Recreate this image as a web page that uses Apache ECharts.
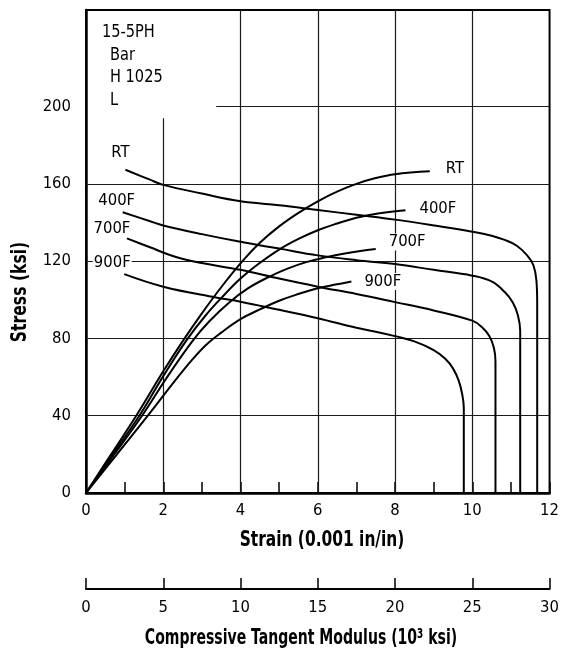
<!DOCTYPE html>
<html>
<head>
<meta charset="utf-8">
<script src="https://cdn.jsdelivr.net/npm/echarts/dist/echarts.min.js"></script>
<style>
  html, body { margin: 0; padding: 0; background: #fff; }
  #chart { width: 562px; height: 657px; }
</style>
</head>
<body>
<div id="chart"></div>
<script>
// ---- axis ranges and ticks ----
const strainMin = 0, strainMax = 12, strainStep = 2;       // 0.001 in/in
const modulusMin = 0, modulusMax = 30, modulusStep = 5;    // 10^3 ksi
const stressMin = 0, stressMax = 250, stressStep = 40;     // ksi
const stressLabelMax = 200;

// grid lines (data units)
const strainGridLines = [2, 4, 6, 8, 10];
const stressGridLines = [40, 80, 120, 160, 200];

// material note in the upper-left corner
const noteLines = ['15-5PH', 'Bar', 'H 1025', 'L'];

const curveNames = ['RT', '400F', '700F', '900F'];

// ---- compressive stress-strain curves: [strain, stress] ----
const stressStrainRT = [
  [0, 0], [0.65, 20], [1.3, 40], [2.0, 63], [2.5, 78.5], [3.0, 93], [3.5, 106.5],
  [4.05, 120], [4.5, 129.5], [5.0, 138], [5.5, 145], [6.0, 151], [6.5, 156],
  [7.0, 160], [7.5, 163], [8.0, 165], [8.9, 166.5]
];
const stressStrain400F = [
  [0, 0], [0.69, 20], [1.38, 40], [2.0, 60.5], [2.6, 79], [3.1, 92], [3.6, 103],
  [4.0, 111], [4.46, 118.5], [5.0, 126], [5.5, 131.5], [6.0, 136], [6.5, 139.5],
  [7.0, 142.5], [7.6, 144.8], [8.27, 146.3]
];
const stressStrain700F = [
  [0, 0], [0.73, 20], [1.45, 40], [2.1, 60], [2.77, 79], [3.2, 89], [3.7, 98.5],
  [4.2, 106], [4.7, 111.5], [5.2, 116], [5.7, 119.5], [6.2, 122], [6.7, 124],
  [7.1, 125.3], [7.5, 126.3]
];
const stressStrain900F = [
  [0, 0], [0.8, 20], [1.6, 40], [2.3, 58], [2.75, 69], [3.1, 76.5], [3.5, 83],
  [4.0, 90], [4.5, 95], [5.0, 99.5], [5.5, 103], [6.0, 106], [6.5, 108], [6.87, 109.5]
];

// ---- compressive tangent modulus curves: [modulus, stress] ----
const tangentRT = [
  [2.55, 167.3], [4.1, 162.3], [5.0, 159.5], [7.5, 155], [10.0, 151], [12.5, 149],
  [15.0, 146.5], [17.5, 144], [20.0, 141.5], [22.5, 138.5], [25.0, 135.2],
  [26.25, 133.2], [27.1, 131], [27.88, 128], [28.55, 123], [28.95, 118],
  [29.15, 110], [29.2, 98], [29.2, 0]
];
const tangent400F = [
  [2.375, 145.3], [4.1, 140.8], [5.0, 138.5], [7.5, 134], [10.0, 130], [12.5, 126.5],
  [15.0, 123], [17.5, 120.5], [20.0, 118.5], [22.5, 115.5], [25.0, 112.5],
  [26.25, 109.5], [27.1, 104], [27.63, 98.5], [27.95, 92], [28.1, 84], [28.1, 0]
];
const tangent700F = [
  [2.65, 131.8], [4.1, 127.3], [5.875, 122], [7.5, 119], [10.0, 115.5], [12.5, 111],
  [15.0, 106.8], [17.5, 103], [20.0, 98.8], [22.5, 94.5], [25.0, 89.2],
  [25.6, 86], [26.1, 81.2], [26.4, 75], [26.5, 68], [26.5, 0]
];
const tangent900F = [
  [2.475, 113.3], [5.0, 106.8], [8.4, 101.2], [10.0, 99], [12.5, 94.8], [15.0, 90.5],
  [17.5, 85.5], [18.75, 83.5], [20.0, 81.2], [21.25, 78.5], [22.5, 74],
  [23.25, 69.5], [23.75, 64.5], [24.125, 58], [24.35, 51], [24.45, 44], [24.45, 0]
];

// ---- styling ----
const FONT = '"Liberation Sans Narrow", "DejaVu Sans Condensed", "Arial Narrow", "Liberation Sans", sans-serif';
const INK = '#000';
const GRID_INK = '#1a1a1a';

// corner note box keeps the grid clear behind the material note
const noteBoxStrain = 3.37;
const noteBoxStress = 194;

const curveLabelStyle = {
  color: INK, fontFamily: FONT, fontSize: 16.5,
  backgroundColor: '#fff', padding: [0, 1]
};

const curves = [
  { name: curveNames[0], sigma: stressStrainRT,   tangent: tangentRT,   endDist: 15, endOff: [0, -3],  startOff: [-5, -17] },
  { name: curveNames[1], sigma: stressStrain400F, tangent: tangent400F, endDist: 13, endOff: [0, -2],  startOff: [-6, -12] },
  { name: curveNames[2], sigma: stressStrain700F, tangent: tangent700F, endDist: 12, endOff: [0, -7],  startOff: [-15, -10] },
  { name: curveNames[3], sigma: stressStrain900F, tangent: tangent900F, endDist: 12, endOff: [0, 0],   startOff: [-12, -11] }
];

// grid lines drawn as mark lines so the corner note area stays open
const gridLineData = [];
strainGridLines.forEach(function (x) {
  const top = (x < noteBoxStrain) ? noteBoxStress : stressMax;
  gridLineData.push([{ coord: [x, stressMin] }, { coord: [x, top] }]);
});
stressGridLines.forEach(function (y) {
  const left = (y > noteBoxStress) ? noteBoxStrain : strainMin;
  gridLineData.push([{ coord: [left, y] }, { coord: [strainMax, y] }]);
});

const series = [];
curves.forEach(function (c, i) {
  const sigmaSeries = {
    name: c.name + ' stress-strain',
    type: 'line',
    xAxisIndex: 0,
    yAxisIndex: 0,
    data: c.sigma,
    showSymbol: false,
    smooth: 0.4,
    silent: true,
    lineStyle: { color: INK, width: 2 },
    endLabel: Object.assign({
      show: true, formatter: c.name, distance: c.endDist, offset: c.endOff
    }, curveLabelStyle),
    z: 3
  };
  if (i === 0) {
    sigmaSeries.markLine = {
      silent: true,
      animation: false,
      symbol: ['none', 'none'],
      label: { show: false },
      lineStyle: { color: GRID_INK, width: 1.2, type: 'solid' },
      data: gridLineData,
      z: 1
    };
  }
  series.push(sigmaSeries);

  series.push({
    name: c.name + ' tangent modulus',
    type: 'line',
    xAxisIndex: 1,
    yAxisIndex: 0,
    data: c.tangent,
    showSymbol: false,
    smooth: 0.4,
    silent: true,
    lineStyle: { color: INK, width: 2 },
    markPoint: {
      silent: true,
      animation: false,
      symbol: 'circle',
      symbolSize: 0,
      data: [{
        coord: c.tangent[0],
        label: Object.assign({
          show: true, formatter: c.name, position: 'inside', offset: c.startOff
        }, curveLabelStyle)
      }]
    },
    z: 3
  });
});

const titleFont = { fontFamily: FONT, fontWeight: 'bold', fontSize: 22, fill: INK };
const noteFont = { fontFamily: FONT, fontSize: 18, fill: INK };

const option = {
  animation: false,
  backgroundColor: '#fff',
  grid: {
    left: 86, right: 6, top: 10, bottom: 164,
    show: true, borderColor: INK, borderWidth: 2, backgroundColor: 'transparent'
  },
  xAxis: [
    {
      type: 'value',
      min: strainMin, max: strainMax, interval: strainStep,
      position: 'bottom',
      axisLine: { show: true, lineStyle: { color: INK, width: 2.5 } },
      axisTick: { show: true, inside: true, length: 11, lineStyle: { color: INK, width: 1.5 } },
      minorTick: { show: true, splitNumber: 2, length: 11, lineStyle: { color: INK, width: 1.5 } },
      splitLine: { show: false },
      axisLabel: { color: INK, fontFamily: FONT, fontSize: 16.5, margin: 9 }
    },
    {
      type: 'value',
      min: modulusMin, max: modulusMax, interval: modulusStep,
      position: 'bottom',
      offset: 96,
      axisLine: { show: true, onZero: false, lineStyle: { color: INK, width: 2 } },
      axisTick: { show: true, inside: true, length: 11, lineStyle: { color: INK, width: 1.5 } },
      splitLine: { show: false },
      axisLabel: { color: INK, fontFamily: FONT, fontSize: 16.5, margin: 10 }
    }
  ],
  yAxis: [
    {
      type: 'value',
      min: stressMin, max: stressMax, interval: stressStep,
      axisLine: { show: true, lineStyle: { color: INK, width: 2.5 } },
      axisTick: { show: false },
      splitLine: { show: false },
      axisLabel: {
        color: INK, fontFamily: FONT, fontSize: 16.5, margin: 15,
        showMaxLabel: false,
        formatter: function (v) { return v <= stressLabelMax ? String(v) : ''; }
      }
    }
  ],
  graphic: [
    {
      type: 'text', x: 102, y: 32, scaleX: 0.9,
      style: Object.assign({ text: noteLines[0], verticalAlign: 'middle' }, noteFont)
    },
    {
      type: 'text', x: 110, y: 55, scaleX: 0.9,
      style: Object.assign({ text: noteLines[1], verticalAlign: 'middle' }, noteFont)
    },
    {
      type: 'text', x: 110, y: 77, scaleX: 0.9,
      style: Object.assign({ text: noteLines[2], verticalAlign: 'middle' }, noteFont)
    },
    {
      type: 'text', x: 110, y: 100, scaleX: 0.9,
      style: Object.assign({ text: noteLines[3], verticalAlign: 'middle' }, noteFont)
    },
    {
      type: 'text', x: 322, y: 540, scaleX: 0.78,
      style: Object.assign({ text: 'Strain (0.001 in/in)', align: 'center', verticalAlign: 'middle' }, titleFont)
    },
    {
      type: 'text', x: 20, y: 292, rotation: Math.PI / 2, scaleX: 0.79,
      style: Object.assign({ text: 'Stress (ksi)', align: 'center', verticalAlign: 'middle' }, titleFont)
    },
    {
      type: 'text', x: 301, y: 638, scaleX: 0.71,
      style: {
        text: '{t|Compressive Tangent Modulus (10}{s|3}{t| ksi)}',
        align: 'center', verticalAlign: 'middle',
        rich: {
          t: { fontFamily: FONT, fontWeight: 'bold', fontSize: 22, fill: INK, color: INK },
          s: { fontFamily: FONT, fontWeight: 'bold', fontSize: 14, fill: INK, color: INK, verticalAlign: 'top', padding: [0, 0, 8, 0] }
        }
      }
    }
  ],
  series: series
};

const chart = echarts.init(document.getElementById('chart'));
chart.setOption(option);
</script>
</body>
</html>
